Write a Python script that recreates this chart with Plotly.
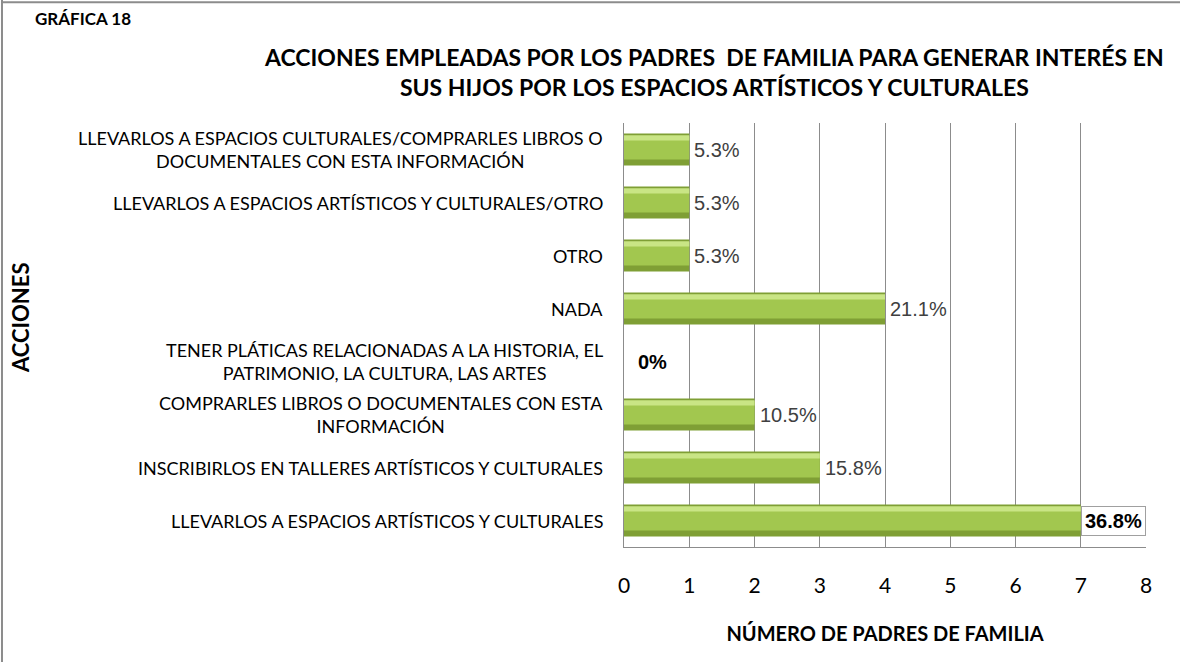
import plotly.graph_objects as go

# Data (bottom to top)
categories = [
    "LLEVARLOS A ESPACIOS ARTÍSTICOS Y CULTURALES",
    "INSCRIBIRLOS EN TALLERES ARTÍSTICOS Y CULTURALES",
    "COMPRARLES LIBROS O DOCUMENTALES CON ESTA<br>INFORMACIÓN",
    "TENER PLÁTICAS RELACIONADAS A LA HISTORIA, EL<br>PATRIMONIO, LA CULTURA, LAS ARTES",
    "NADA",
    "OTRO",
    "LLEVARLOS A ESPACIOS ARTÍSTICOS Y CULTURALES/OTRO",
    "LLEVARLOS A ESPACIOS CULTURALES/COMPRARLES LIBROS O<br>DOCUMENTALES CON ESTA INFORMACIÓN",
]
counts = [7, 3, 2, 0, 4, 1, 1, 1]
percents = [36.8, 15.8, 10.5, 0, 21.1, 5.3, 5.3, 5.3]
bold_labels = [True, False, False, True, False, False, False, False]
x_ticks = [0, 1, 2, 3, 4, 5, 6, 7, 8]

LABEL_FONT = "Lato, 'Open Sans', sans-serif"
DATA_FONT = "'Liberation Sans', Arial, sans-serif"

ids = list(range(len(categories)))

fig = go.Figure()
# base (dark bottom) layer
fig.add_trace(go.Bar(x=counts, y=ids, orientation="h", width=0.6, offset=-0.3,
                     marker=dict(color="#7f9f35", line=dict(width=0)),
                     hoverinfo="skip", showlegend=False))
# mid body
fig.add_trace(go.Bar(x=counts, y=ids, orientation="h", width=0.44, offset=-0.19,
                     marker=dict(color="#a2c74f", line=dict(width=0)),
                     hoverinfo="skip", showlegend=False))
# top highlight
fig.add_trace(go.Bar(x=counts, y=ids, orientation="h", width=0.1, offset=0.17,
                     marker=dict(color="#c9e585", line=dict(width=0)),
                     hoverinfo="skip", showlegend=False))

annotations = []
# data labels
for i, (c, p, b) in enumerate(zip(counts, percents, bold_labels)):
    txt = f"{p:g}%"
    if b:
        txt = f"<b>{txt}</b>"
    ann = dict(x=c, y=i, xref="x", yref="y", text=txt, showarrow=False,
               xanchor="left", yanchor="middle", xshift=3 if c else 12,
               font=dict(family=DATA_FONT, size=20,
                         color="#000000" if b else "#404040"))
    if c == max(counts):
        ann.update(bgcolor="white", bordercolor="#a0a0a0", borderwidth=1, borderpad=3, xshift=0)
    annotations.append(ann)

# category labels (centered multi-line)
for i, cat in enumerate(categories):
    annotations.append(dict(x=0, y=i, xref="paper", yref="y", text=cat, showarrow=False,
                            xanchor="right", yanchor="middle", align="center", xshift=-19,
                            font=dict(family=LABEL_FONT, size=18, color="#000000")))

# titles
annotations += [
    dict(x=-1.132, y=1.2476, xref="paper", yref="paper", text="<b>GRÁFICA 18</b>", showarrow=False,
         xanchor="left", yanchor="middle", font=dict(family=LABEL_FONT, size=17, color="#000")),
    dict(x=0.1724, y=1.12, xref="paper", yref="paper",
         text="<b>ACCIONES EMPLEADAS POR LOS PADRES&nbsp; DE FAMILIA PARA GENERAR INTERÉS EN<br>SUS HIJOS POR LOS ESPACIOS ARTÍSTICOS Y CULTURALES</b>",
         showarrow=False, xanchor="center", yanchor="middle", align="center",
         font=dict(family=LABEL_FONT, size=23, color="#000")),
    dict(x=-1.157, y=0.54, xref="paper", yref="paper", text="<b>ACCIONES</b>", showarrow=False,
         textangle=-90, xanchor="center", yanchor="middle",
         font=dict(family=LABEL_FONT, size=22, color="#000")),
]

fig.update_layout(
    width=1180, height=662,
    margin=dict(l=624, r=34, t=123, b=115),
    paper_bgcolor="white", plot_bgcolor="white",
    barmode="overlay",
    annotations=annotations,
    xaxis=dict(range=[0, 8], tickvals=x_ticks, showgrid=True, gridcolor="#8c8c8c", gridwidth=1,
               zeroline=False, showline=True, linecolor="#8c8c8c", linewidth=1,
               ticks="outside", ticklen=20, tickcolor="rgba(0,0,0,0)",
               tickfont=dict(family=LABEL_FONT, size=21, color="#000"),
               title=dict(text="<b>NÚMERO DE PADRES DE FAMILIA</b>", standoff=30,
                          font=dict(family=LABEL_FONT, size=20, color="#000"))),
    yaxis=dict(range=[-0.5, 7.5], showticklabels=False, showgrid=False, zeroline=False,
               showline=True, linecolor="#8c8c8c", linewidth=1, fixedrange=True),
    shapes=[
        dict(type="line", xref="paper", yref="paper", x0=-1.1916, x1=-1.1916, y0=-1, y1=1.29,
             line=dict(color="#8c8c8c", width=2)),
        dict(type="line", xref="paper", yref="paper", x0=-1.1916, x1=1.2, y0=1.285, y1=1.285,
             line=dict(color="#8c8c8c", width=2)),
    ],
)

fig.write_html("out.html", config={"displayModeBar": False},
               post_script="document.body.style.margin='0';")
